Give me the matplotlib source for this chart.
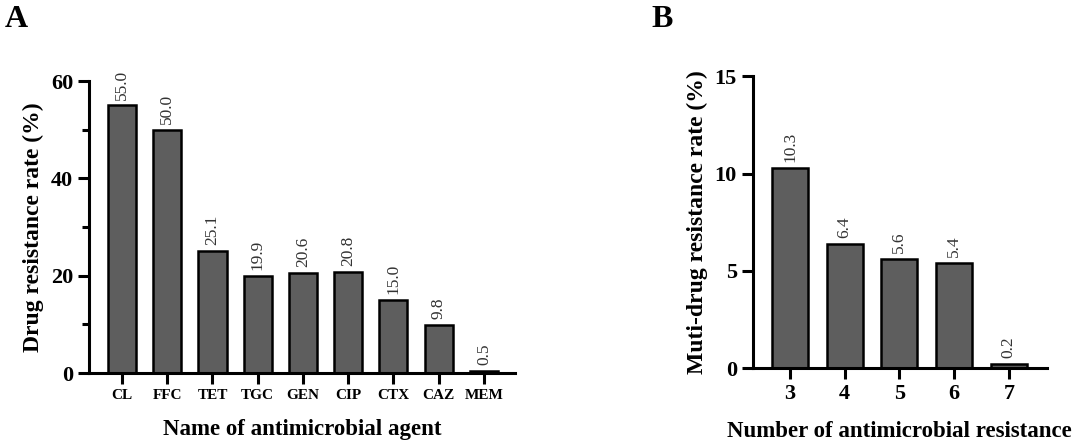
import matplotlib
matplotlib.use("Agg")
import matplotlib.pyplot as plt
from matplotlib.ticker import MultipleLocator

plt.rcParams['font.family'] = ['Liberation Serif', 'DejaVu Serif']

agents = ['CL', 'FFC', 'TET', 'TGC', 'GEN', 'CIP', 'CTX', 'CAZ', 'MEM']
agent_rates = [55.0, 50.0, 25.1, 19.9, 20.6, 20.8, 15.0, 9.8, 0.5]

n_resist = [3, 4, 5, 6, 7]
mdr_rates = [10.3, 6.4, 5.6, 5.4, 0.2]

bar_color = '#5e5e5e'


def style_axes(ax):
    for s in ['top', 'right']:
        ax.spines[s].set_visible(False)
    for s in ['left', 'bottom']:
        ax.spines[s].set_linewidth(2.2)
    ax.tick_params(axis='both', which='major', length=8, width=2.2, direction='out')
    ax.tick_params(axis='both', which='minor', length=5, width=2.2, direction='out')


fig = plt.figure(figsize=(10.8, 4.43), dpi=100)

# panel A
ax1 = fig.add_axes([0.0824, 0.158, 0.3946, 0.659])
x1 = list(range(len(agents)))
ax1.bar(x1, agent_rates, width=0.62, color=bar_color, edgecolor='black', linewidth=1.8)
for xi, v in zip(x1, agent_rates):
    ax1.text(xi, v + 1.2, f'{v:.1f}', rotation=90, ha='center', va='bottom',
             fontsize=12.5, color='#333333')
ax1.set_xlim(-0.73, 8.69)
ax1.set_ylim(0, 60)
ax1.set_yticks([0, 20, 40, 60])
ax1.yaxis.set_minor_locator(MultipleLocator(10))
ax1.set_xticks(x1)
ax1.set_xticklabels(agents, fontsize=11, fontweight='bold')
for lab in ax1.get_yticklabels():
    lab.set_fontsize(16)
    lab.set_fontweight('bold')
style_axes(ax1)
ax1.set_ylabel('Drug resistance rate (%)', fontsize=17, fontweight='bold', labelpad=5)
ax1.set_xlabel('Name of antimicrobial agent', fontsize=16.5, fontweight='bold', labelpad=12)

# panel B
ax2 = fig.add_axes([0.697, 0.169, 0.272, 0.659])
ax2.bar(n_resist, mdr_rates, width=0.66, color=bar_color, edgecolor='black', linewidth=1.8)
for xi, v in zip(n_resist, mdr_rates):
    ax2.text(xi, v + 0.3, f'{v:.1f}', rotation=90, ha='center', va='bottom',
             fontsize=12.5, color='#333333')
ax2.set_xlim(2.32, 7.69)
ax2.set_ylim(0, 15)
ax2.set_yticks([0, 5, 10, 15])
ax2.set_xticks(n_resist)
ax2.set_xticklabels([str(n) for n in n_resist], fontsize=16, fontweight='bold')
for lab in ax2.get_yticklabels():
    lab.set_fontsize(16)
    lab.set_fontweight('bold')
style_axes(ax2)
ax2.set_ylabel('Muti-drug resistance rate (%)', fontsize=17, fontweight='bold', labelpad=5)
ax2.set_xlabel('Number of antimicrobial resistance', fontsize=16.5, fontweight='bold', labelpad=12)

fig.text(0.004, 0.955, 'A', fontsize=23, fontweight='bold', va='center', ha='left')
fig.text(0.603, 0.955, 'B', fontsize=23, fontweight='bold', va='center', ha='left')

plt.savefig('out.png', dpi=100)
